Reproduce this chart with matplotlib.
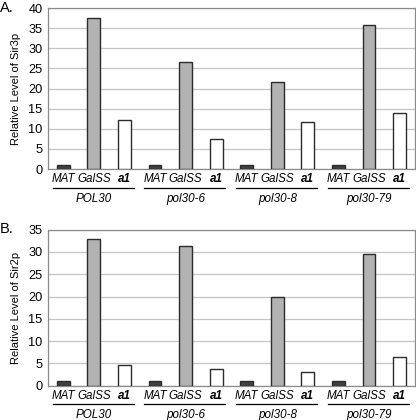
import matplotlib
matplotlib.use("Agg")
import matplotlib.pyplot as plt
import matplotlib.transforms as mtransforms
import numpy as np

plt.rcParams['font.family'] = ['Liberation Sans', 'DejaVu Sans']

strains = ["POL30", "pol30-6", "pol30-8", "pol30-79"]
probes = ["MAT", "GalSS", "a1"]
sir3 = [1.0, 37.6, 12.1,
        1.0, 26.5, 7.5,
        1.0, 21.7, 11.6,
        1.0, 35.8, 13.9]
sir2 = [1.0, 32.9, 4.6,
        1.0, 31.4, 3.8,
        1.0, 20.0, 3.1,
        1.0, 29.5, 6.5]
bar_colors = ["#3f3f3f", "#b2b2b2", "#ffffff"]

fig = plt.figure(figsize=(4.16, 4.20), dpi=100)
axA = fig.add_axes([0.1154, 0.5976, 0.882, 0.3833])
axB = fig.add_axes([0.1154, 0.0817, 0.882, 0.3714])


def draw_panel(ax, values, ymax, ylabel, letter, letter_y):
    x = np.arange(len(values)) + 0.5
    cols = bar_colors * len(strains)
    ax.bar(x, values, width=0.42, color=cols, edgecolor="#2b2b2b",
           linewidth=1.0, zorder=3)
    ax.set_xlim(0, len(values))
    ax.set_ylim(0, ymax)
    ax.set_yticks(np.arange(0, ymax + 1, 5))
    ax.yaxis.grid(True, color="#c4c4c4", linewidth=0.9, zorder=0)
    ax.tick_params(axis="y", length=0, labelsize=9.2, pad=4)
    ax.set_ylabel(ylabel, fontsize=8, labelpad=5)
    for s in ax.spines.values():
        s.set_color("#8a8a8a")
        s.set_linewidth(0.9)
    ax.set_xticks(x)
    ax.set_xticklabels(probes * len(strains))
    ax.tick_params(axis="x", length=0, labelsize=8.4, pad=3)
    for i, t in enumerate(ax.get_xticklabels()):
        t.set_style("italic")
        if i % 3 == 2:
            t.set_weight("bold")
    trans = mtransforms.blended_transform_factory(ax.transData, ax.transAxes)
    for g, name in enumerate(strains):
        x0 = 3 * g
        ax.plot([x0 + 0.15, x0 + 2.8], [-0.12, -0.12], color="black",
                linewidth=0.9, transform=trans, clip_on=False)
        ax.text(x0 + 1.5, -0.15, name, transform=trans, ha="center",
                va="top", fontsize=8.4, style="italic")
    fig.text(0.0, letter_y, letter, ha="left", va="center", fontsize=10.5)


draw_panel(axA, sir3, 40, "Relative Level of Sir3p", "A.", 0.982)
draw_panel(axB, sir2, 35, "Relative Level of Sir2p", "B.", 0.455)

fig.savefig("out.png", dpi=100)
